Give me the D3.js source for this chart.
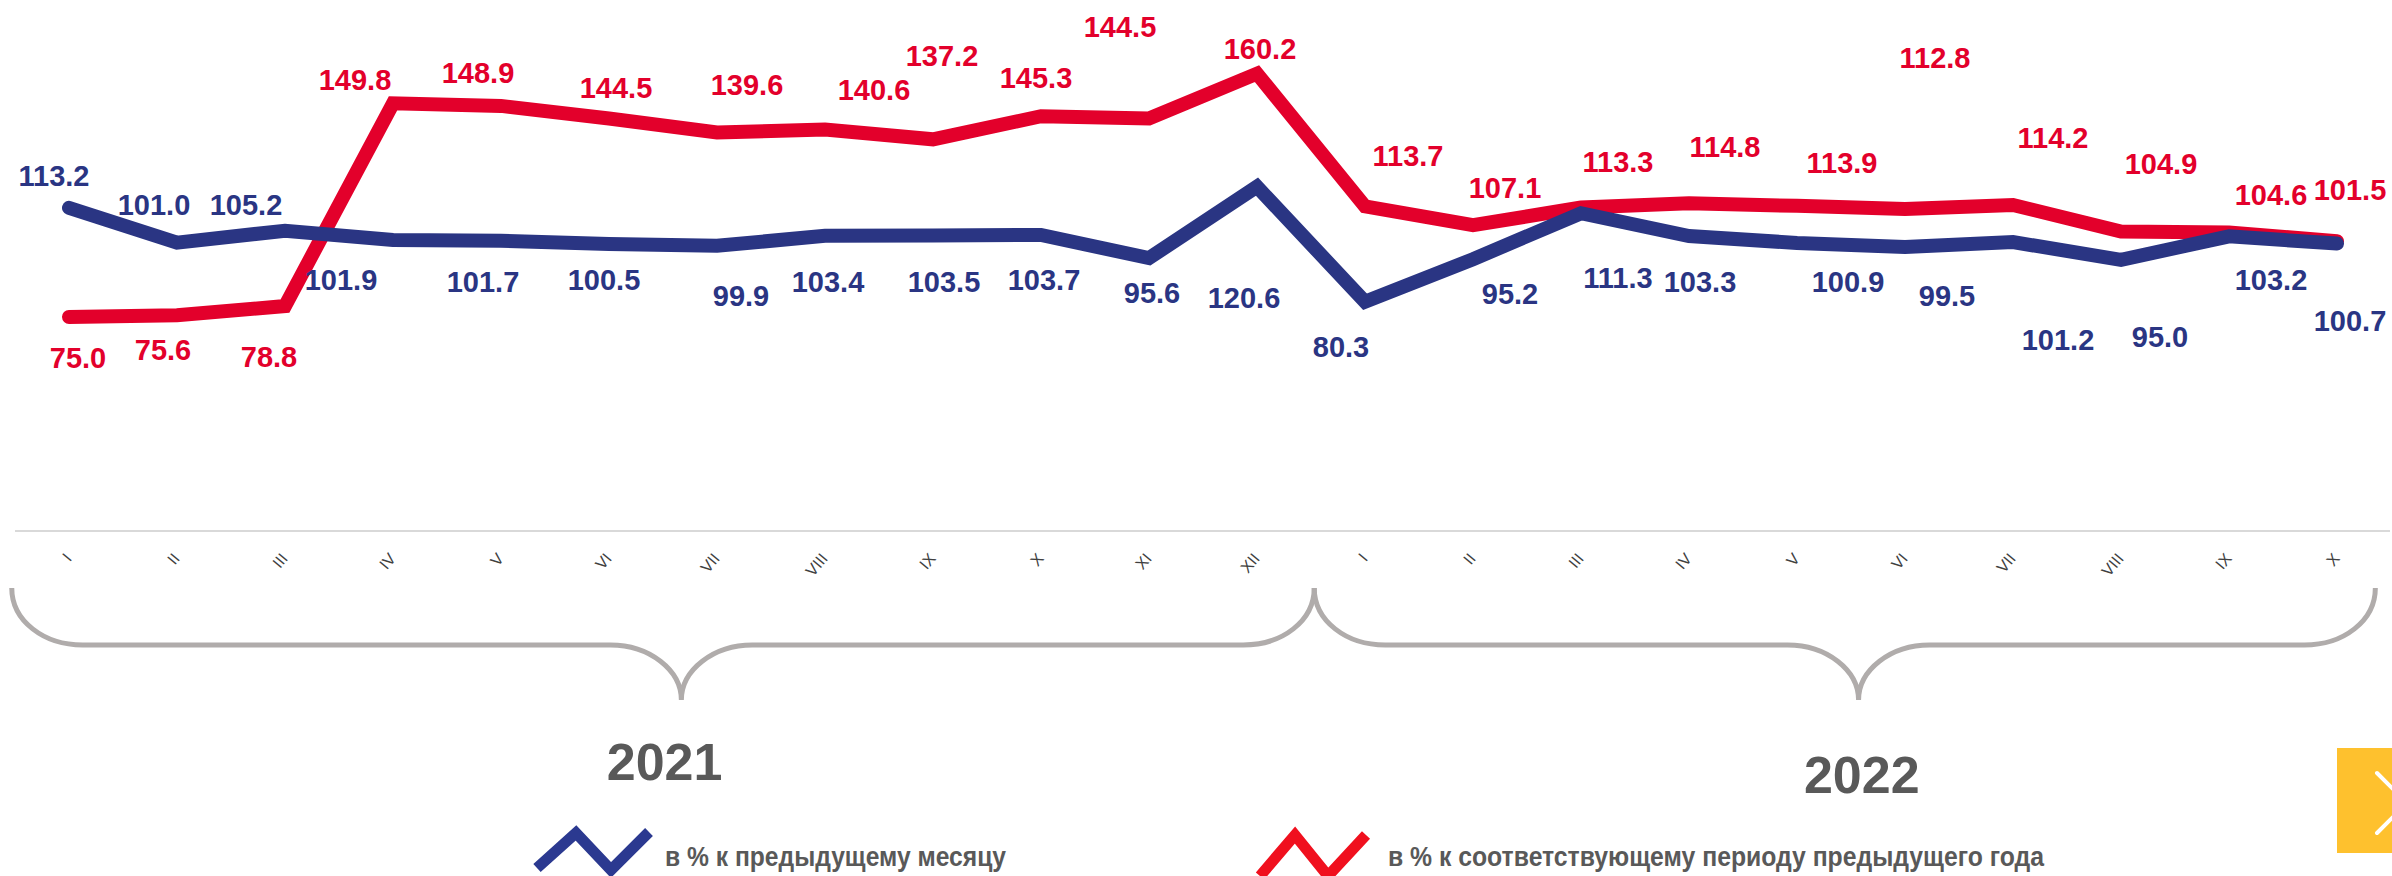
<!DOCTYPE html>
<html><head><meta charset="utf-8">
<script src="https://cdn.jsdelivr.net/npm/d3@7"></script>
<style>html,body{margin:0;padding:0;background:#fff;overflow:hidden}</style>
</head><body>
<svg id="chart" width="2392" height="876"></svg>
<script>
// ---------- DATA ----------
const months = ["I","II","III","IV","V","VI","VII","VIII","IX","X","XI","XII",
                "I","II","III","IV","V","VI","VII","VIII","IX","X"];
const monthYears = ["2021","2021","2021","2021","2021","2021","2021","2021","2021","2021","2021","2021",
                    "2022","2022","2022","2022","2022","2022","2022","2022","2022","2022"];
const years = ["2021","2022"];
// в % к предыдущему месяцу
const prevMonth = [113.2,101.0,105.2,101.9,101.7,100.5,99.9,103.4,103.5,103.7,95.6,120.6,
                   80.3,95.2,111.3,103.3,100.9,99.5,101.2,95.0,103.2,100.7];
// в % к соответствующему периоду предыдущего года
const prevYear = [75.0,75.6,78.8,149.8,148.9,144.5,139.6,140.6,137.2,145.3,144.5,160.2,
                  113.7,107.1,113.3,114.8,113.9,112.8,114.2,104.9,104.6,101.5];
const legendLabels = ["в % к предыдущему месяцу","в % к соответствующему периоду предыдущего года"];

// ---------- LABEL PLACEMENT (offsets from point, px) ----------
const redDx  = [9,-14,-16,-38,-23,7,30,49,9,-5,-29,3,43,32,37,36,45,30,40,40,42,13];
const redDy  = [51,45,61,-13,-23,-20,-37,-30,-73,-28,-81,-15,-40,-27,-36,-46,-33,-141,-57,-58,-27,-41];
const blueDx = [-15,-23,-39,-52,-18,-5,24,3,11,3,3,-13,-24,37,37,11,51,42,45,39,42,13];
const blueDy = [-22,-28,-16,50,51,46,60,56,56,55,45,121,55,45,75,56,49,59,108,87,54,87];

// ---------- STYLE ----------
const BLUE = "#2a3583", RED = "#e3002b", GRAY = "#595959";
const FONT = "'Liberation Sans', Arial, Helvetica, sans-serif";

const keys = months.map((m,i) => monthYears[i] + "-" + m);
const svg = d3.select("#chart");

const x = d3.scalePoint().domain(keys).range([69, 2337]).padding(0);
const y = d3.scaleLinear().domain([0, 186]).range([531, 0]);
const step = x.step();
const xi = i => x(keys[0]) + i * step;

// baseline axis line
svg.append("line")
  .attr("x1", 15).attr("x2", 2390).attr("y1", y(0)).attr("y2", y(0))
  .attr("stroke", "#d9d9d9").attr("stroke-width", 2);

// month tick labels via d3 axis
const axis = d3.axisBottom(x).tickSize(0).tickFormat((d, i) => months[i]);
const gAx = svg.append("g").attr("transform", `translate(0,${y(0)})`).call(axis);
gAx.select(".domain").remove();
gAx.selectAll(".tick text")
  .attr("font-family", FONT).attr("font-size", 16).attr("fill", "#404040")
  .attr("text-anchor", "end").attr("x", 0).attr("y", 0).attr("dy", 0)
  .attr("transform", "translate(3,28) rotate(-50)");

// braces
function brace(x1, xc, x2) {
  const yt = 588, ym = 645, yb = 700, r = 71;
  return `M${x1},${yt} C${x1},${yt+33} ${x1+32},${ym} ${x1+r},${ym} L${xc-r},${ym} ` +
         `C${xc-32},${ym} ${xc},${ym+25} ${xc},${yb} C${xc},${ym+25} ${xc+32},${ym} ${xc+r},${ym} ` +
         `L${x2-r},${ym} C${x2-32},${ym} ${x2},${yt+33} ${x2},${yt}`;
}
const braces = [
  [xi(-0.53), xi(5.67), xi(11.53)],
  [xi(11.53), xi(16.57), xi(21.355)]
];
svg.selectAll("path.brace").data(braces).join("path")
  .attr("class", "brace")
  .attr("d", d => brace(d[0], d[1], d[2]))
  .attr("fill", "none").attr("stroke", "#b0acab").attr("stroke-width", 5);

// year labels
const yearPos = [[xi(5.515), 780], [xi(16.6), 793]];
svg.selectAll("text.year").data(years).join("text")
  .attr("class", "year")
  .attr("x", (d, i) => yearPos[i][0]).attr("y", (d, i) => yearPos[i][1])
  .attr("text-anchor", "middle")
  .attr("font-family", FONT).attr("font-weight", "bold").attr("font-size", 52)
  .attr("fill", GRAY).text(d => d);

// lines
const line = d3.line().x((d, i) => x(keys[i])).y(d => y(d));
svg.append("path").datum(prevYear)
  .attr("d", line).attr("fill", "none").attr("stroke", RED)
  .attr("stroke-width", 14).attr("stroke-linecap", "round").attr("stroke-linejoin", "miter");
svg.append("path").datum(prevMonth)
  .attr("d", line).attr("fill", "none").attr("stroke", BLUE)
  .attr("stroke-width", 14).attr("stroke-linecap", "round").attr("stroke-linejoin", "miter");

// value labels
function labels(vals, dx, dy, color, cls) {
  svg.selectAll("text." + cls).data(vals).join("text")
    .attr("class", cls)
    .attr("x", (d, i) => x(keys[i]) + dx[i])
    .attr("y", (d, i) => y(d) + dy[i])
    .attr("text-anchor", "middle")
    .attr("font-family", FONT).attr("font-weight", "bold").attr("font-size", 29)
    .attr("fill", color)
    .text(d => d.toFixed(1));
}
labels(prevYear, redDx, redDy, RED, "lblR");
labels(prevMonth, blueDx, blueDy, BLUE, "lblB");

// legend
const legend = [
  {pts: [[537,868],[576,833],[611,870],[649,832]], color: "#2b3990", tx: 665, tl: 341, label: legendLabels[0]},
  {pts: [[1260,876],[1295,835],[1328,876],[1366,835]], color: "#f0101e", tx: 1388, tl: 656, label: legendLabels[1]}
];
const lg = svg.selectAll("g.legend").data(legend).join("g").attr("class", "legend");
lg.append("path")
  .attr("d", d => d3.line()(d.pts))
  .attr("fill", "none").attr("stroke", d => d.color)
  .attr("stroke-width", 11).attr("stroke-linejoin", "miter").attr("stroke-linecap", "butt");
lg.append("text")
  .attr("x", d => d.tx).attr("y", 866)
  .attr("font-family", FONT).attr("font-weight", "bold").attr("font-size", 27)
  .attr("fill", GRAY)
  .attr("textLength", d => d.tl).attr("lengthAdjust", "spacingAndGlyphs")
  .text(d => d.label);

// yellow next button
svg.append("rect").attr("x", 2337).attr("y", 748).attr("width", 60).attr("height", 105)
  .attr("fill", "#fec12e");
svg.append("path").attr("d", "M2377,773 L2407,803 L2377,833")
  .attr("fill", "none").attr("stroke", "#fff").attr("stroke-width", 4)
  .attr("stroke-linecap", "round");
</script>
</body></html>
